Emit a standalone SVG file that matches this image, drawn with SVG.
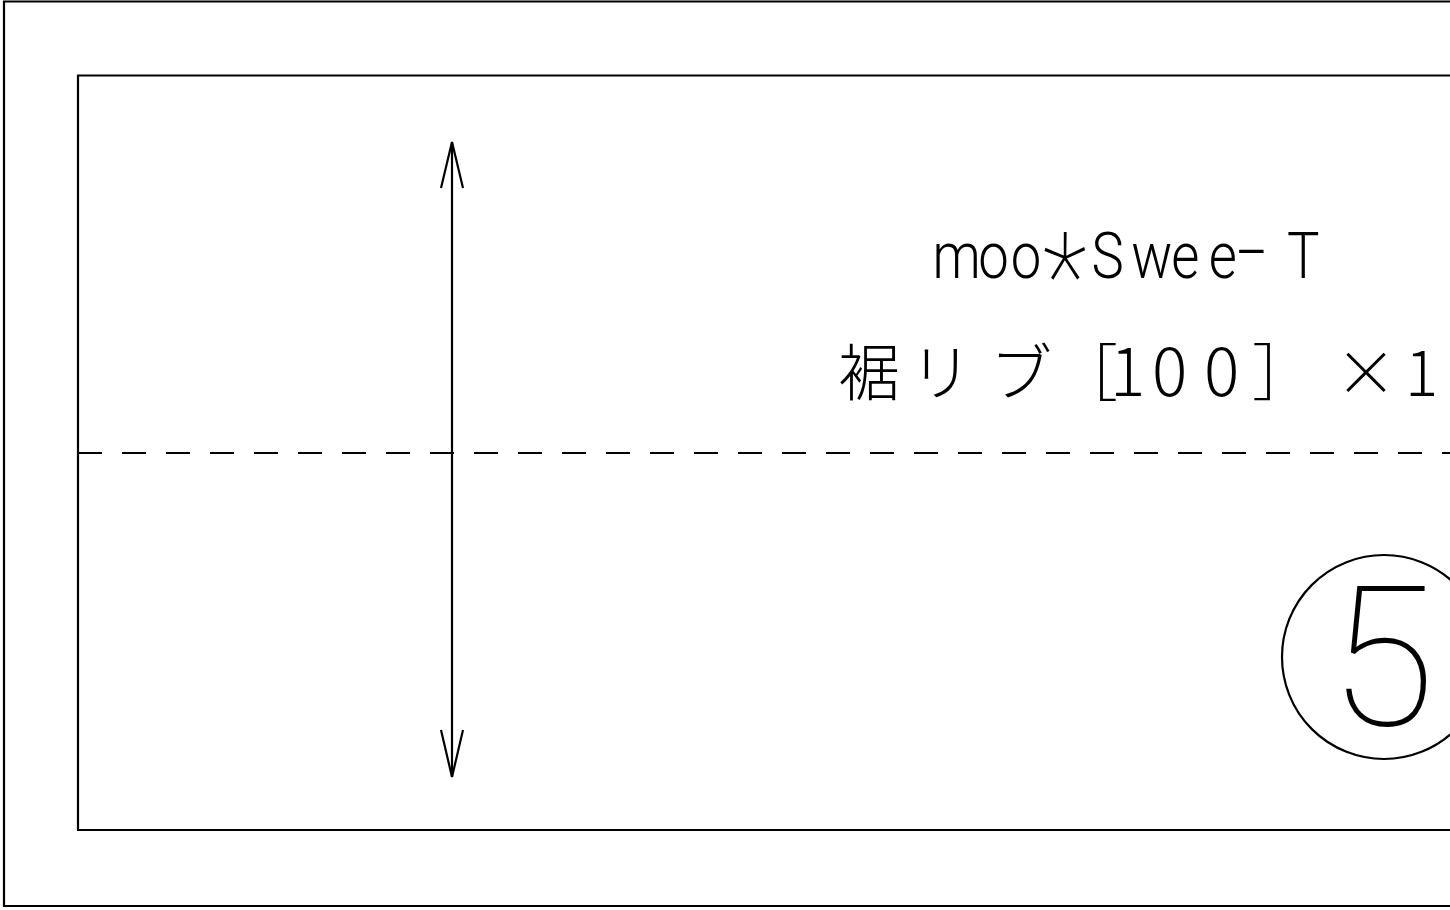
<svg xmlns="http://www.w3.org/2000/svg" width="1450" height="910" viewBox="0 0 1450 910">
<style>
.ln{fill:none;stroke:#000;stroke-width:2.2}
.dash{fill:none;stroke:#000;stroke-width:2.2;stroke-dasharray:24 20}
.lat{font-family:Roboto,"Liberation Sans",sans-serif;font-weight:300;fill:#000}
.thin{font-family:Roboto,"Liberation Sans",sans-serif;font-weight:100;fill:#000}
.jp{font-family:"Noto Sans CJK JP",sans-serif;font-weight:300;fill:#000}
</style>
<rect width="1450" height="910" fill="#fff"/>
<g id="frame">
<path class="ln" d="M1452 1.5 H4 V906 H1452"/>
<path class="ln" d="M1452 75.5 H78 V830 H1452"/>
</g>
<g id="connectors">
<path class="dash" d="M78 453 H1452"/>
<path class="ln" d="M452 142 V777"/>
<path class="ln" d="M441 188 L452 142 L463 188"/>
<path class="ln" d="M441 730 L452 777 L463 730"/>
</g>
<g id="label">
<text class="lat" font-size="64" transform="scale(0.85 1)"><tspan y="278" x="1097 1151 1189">moo</tspan><tspan y="319" x="1227" font-size="122" font-weight="100">*</tspan><tspan y="278" x="1284 1331 1378 1422">Swee</tspan><tspan y="292" x="1454" font-size="125" font-weight="100">-</tspan><tspan y="278" x="1514">T</tspan></text>
<text class="jp" font-size="62" y="396"><tspan x="838 910 990 1056">裾リブ［</tspan><tspan font-size="66" x="1110 1152 1204">100</tspan><tspan x="1252 1335 1405">］×1</tspan></text>
</g>
<g id="badge">
<circle class="ln" cx="1384" cy="657" r="102"/>
<text class="thin" font-size="194" x="1382" y="725" text-anchor="middle">5</text>
</g>
</svg>
